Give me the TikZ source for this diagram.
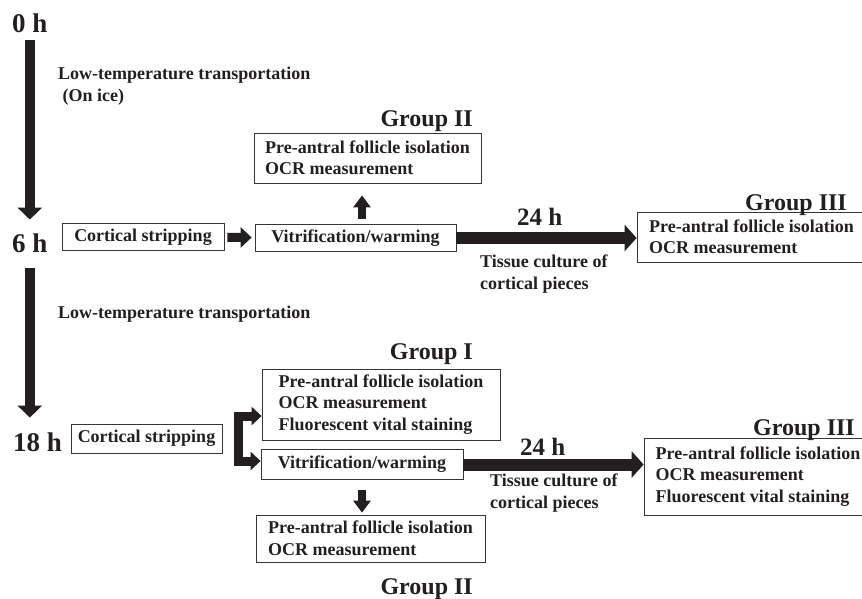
\documentclass[tikz,border=0pt]{standalone}
\usepackage{fontspec}
\setmainfont{Liberation Serif}
\usetikzlibrary{arrows.meta}
\definecolor{ink}{HTML}{231F20}
\newcommand\boxfont{\fontsize{18}{21.5}\selectfont\bfseries}
\newcommand\timefont{\fontsize{27}{30}\selectfont\bfseries}
\newcommand\grpfont{\fontsize{24}{26}\selectfont\bfseries}
\newcommand\hrfont{\fontsize{25}{27}\selectfont\bfseries}
\tikzset{
  box/.style={draw=ink!90, line width=.8pt, inner sep=0pt, align=left, font=\boxfont, text=ink},
  txt/.style={inner sep=0pt, align=left, font=\boxfont, text=ink},
  timearrow/.style={draw=ink, line width=10pt, -{Triangle[width=24pt,length=12pt]}},
  flowarrow/.style={draw=ink, line width=9pt, -{Triangle[width=20pt,length=11pt]}},
  longarrow/.style={draw=ink, line width=12pt, -{Triangle[width=26pt,length=12pt]}},
}
\begin{document}
\begin{tikzpicture}[x=1pt,y=-1pt]
\useasboundingbox (0,0) rectangle (862,598);
% time points
\node[txt, font=\timefont, anchor=base west] (t0) at (12,32) {0 h};
\node[txt, font=\timefont, anchor=base west] (t6) at (12,252) {6 h};
\node[txt, font=\timefont, anchor=base west] (t18) at (13,451) {18 h};
\draw[timearrow] ([yshift=-8pt]t0.south) -- ([yshift=13.5pt]t6.north);
\draw[timearrow] ([yshift=-16pt]t6.south) -- ([yshift=14.5pt]t18.north -| t6.south);
\node[txt, anchor=base west] (lt1) at (58,101) {Low-temperature transportation\\\hspace{4.5pt}(On ice)};
\node[txt, anchor=base west] (lt2) at (58,318) {Low-temperature transportation};

% 6 h branch
\node[box, minimum width=162pt, minimum height=27pt] (cs1) at (143,237) {Cortical stripping};
\node[box, minimum width=201pt, minimum height=27pt] (vw1) at (355.5,238) {Vitrification/warming};
\node[box, minimum width=227pt, minimum height=50pt] (g2a) at (367.5,158) {Pre-antral follicle isolation\\OCR measurement};
\node[box, minimum width=229pt, minimum height=50pt] (g3a) at (751.5,237) {Pre-antral follicle isolation\\OCR measurement};
\node[txt, font=\grpfont, anchor=base east] (l2a) at (473,126) {Group II};
\node[txt, font=\grpfont, anchor=base east] (l3a) at (847,210) {Group III};
\draw[flowarrow, shorten <=3pt, shorten >=3pt] (cs1) -- (vw1);
\draw[flowarrow, line width=8pt, -{Triangle[width=17pt,length=12pt]}, shorten <=5pt, shorten >=12pt] ([xshift=6.5pt]vw1.north) -- ([xshift=6.5pt]vw1.north |- g2a.south);
\draw[longarrow] (vw1.east) -- (vw1.east -| g3a.west);
\node[txt, font=\hrfont, anchor=base west] (h24a) at (517,225) {24 h};
\node[txt, anchor=base west] (tca) at (480,289) {Tissue culture of\\cortical pieces};

% 18 h branch
\node[box, minimum width=151pt, minimum height=29pt] (cs2) at (146.5,438.5) {Cortical stripping};
\node[box, minimum width=202pt, minimum height=30pt] (vw2) at (362,464.5) {Vitrification/warming};
\node[box, minimum width=238pt, minimum height=71pt] (g1) at (381,404.5) {Pre-antral follicle isolation\\OCR measurement\\Fluorescent vital staining};
\node[box, minimum width=229pt, minimum height=47pt] (g2b) at (370.5,538.5) {Pre-antral follicle isolation\\OCR measurement};
\node[box, minimum width=228pt, minimum height=77pt] (g3b) at (758,476.5) {Pre-antral follicle isolation\\OCR measurement\\Fluorescent vital staining};
\node[txt, font=\grpfont, anchor=base east] (l1) at (473,359) {Group I};
\node[txt, font=\grpfont, anchor=base east] (l2b) at (473,594) {Group II};
\node[txt, font=\grpfont, anchor=base east] (l3b) at (855,435) {Group III};
\coordinate (br) at ([xshift=16.5pt]cs2.east);
\draw[flowarrow, -{Triangle[width=18pt,length=10pt]}] (br) |- ([yshift=-11.5pt]g1.west);
\draw[flowarrow, -{Triangle[width=18pt,length=10pt]}] (br) |- ([yshift=3.5pt]vw2.west);
\draw[flowarrow, line width=8pt, -{Triangle[width=17pt,length=12pt]}, shorten <=10pt, shorten >=2pt] (vw2.south) -- (vw2.south |- g2b.north);
\draw[longarrow] (vw2.east) -- (vw2.east -| g3b.west);
\node[txt, font=\hrfont, anchor=base west] (h24b) at (520,455) {24 h};
\node[txt, anchor=base west] (tcb) at (490,508) {Tissue culture of\\cortical pieces};
\end{tikzpicture}
\end{document}
